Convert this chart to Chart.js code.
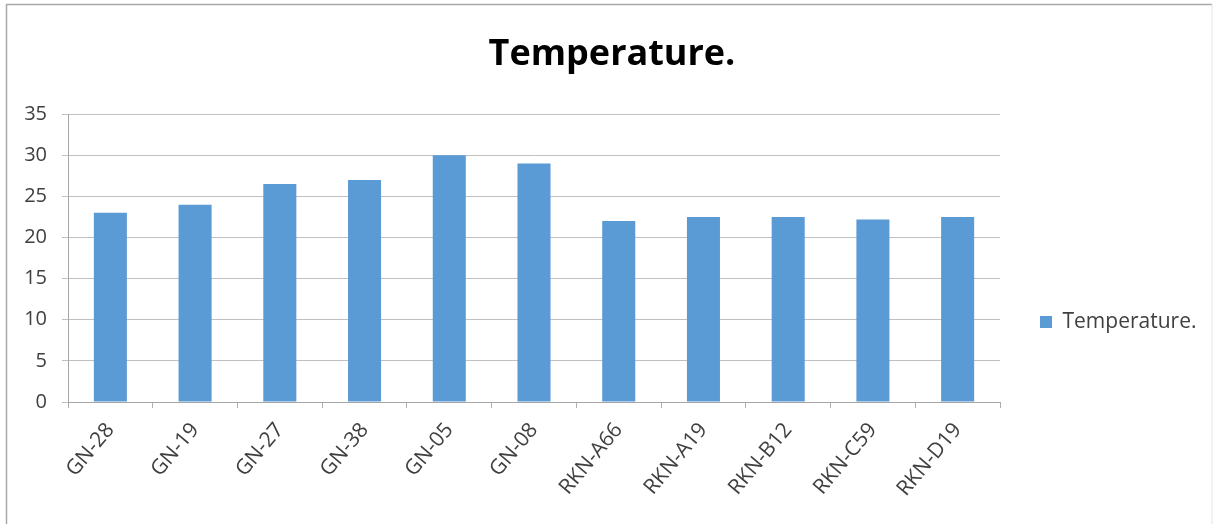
<!DOCTYPE html>
<html>
<head>
<meta charset="utf-8">
<script src="https://cdn.jsdelivr.net/npm/chart.js@4"></script>
<style>
  html, body { margin: 0; padding: 0; background: #fff; }
  #wrap { width: 1216px; height: 524px; position: relative; }
</style>
</head>
<body>
<div id="wrap"><canvas id="chart"></canvas></div>
<script>
const categories = ["GN-28", "GN-19", "GN-27", "GN-38", "GN-05", "GN-08",
	"RKN-A66", "RKN-A19", "RKN-B12", "RKN-C59", "RKN-D19"];
const temperature = [23, 24, 26.5, 27, 30, 29, 22, 22.5, 22.5, 22.2, 22.5];
const yTicks = [0, 5, 10, 15, 20, 25, 30, 35];

const FONT = "'Open Sans', 'Liberation Sans', sans-serif";

// white background + thin frame like the exported picture
const frame = {
	id: "frame",
	beforeDraw(chart) {
		const { ctx, width, height } = chart;
		ctx.save();
		ctx.fillStyle = "#fff";
		ctx.fillRect(0, 0, width, height);
		ctx.strokeStyle = "#a8a8a8";
		ctx.lineWidth = 1.5;
		ctx.beginPath();
		ctx.moveTo(6.5, height);
		ctx.lineTo(6.5, 4.5);
		ctx.lineTo(width - 4, 4.5);
		ctx.stroke();
		ctx.strokeStyle = "#ececec";
		ctx.beginPath();
		ctx.moveTo(width - 4, 4.5);
		ctx.lineTo(width - 4, height);
		ctx.stroke();
		ctx.restore();
	},
};

// fixed legend column on the right, centred lower like Excel does
const legendPlace = {
	id: "legendPlace",
	beforeInit(chart) {
		const fit = chart.legend.fit;
		chart.legend.fit = function () {
			fit.call(this);
			this.width = 216;
		};
	},
	afterLayout(chart) {
		chart.legend.top += 110;
	},
};

new Chart(document.getElementById("chart"), {
	type: "bar",
	plugins: [frame, legendPlace],
	data: {
		labels: categories,
		datasets: [
			{
				label: "Temperature.",
				data: temperature,
				backgroundColor: "#5b9bd5",
				borderWidth: 0,
				barPercentage: 0.39,
				categoryPercentage: 1,
			},
		],
	},
	options: {
		responsive: true,
		maintainAspectRatio: false,
		animation: false,
		layout: { padding: { left: 8, right: 0, top: 10, bottom: 0 } },
		plugins: {
			tooltip: { enabled: false },
			title: {
				display: true,
				text: "Temperature.",
				color: "#000",
				font: { family: FONT, size: 36, weight: "bold" },
				padding: { top: 23, bottom: 38 },
			},
			legend: {
				position: "right",
				labels: {
					boxWidth: 12,
					boxHeight: 12,
					padding: 40,
					color: "#404040",
					font: { family: FONT, size: 21 },
				},
			},
		},
		scales: {
			x: {
				grid: {
					display: true,
					drawOnChartArea: false,
					offset: true,
					tickLength: 6,
					color: "#b0b0b0",
				},
				border: { color: "#a6a6a6" },
				ticks: {
					color: "#404040",
					font: { family: FONT, size: 21 },
					minRotation: 50,
					maxRotation: 50,
					padding: 10,
				},
				afterFit(scale) {
					scale.height = 122;
				},
			},
			y: {
				min: 0,
				max: 35,
				afterBuildTicks(scale) {
					scale.ticks = yTicks.map(v => ({ value: v }));
				},
				grid: { color: "#c0c0c0", tickLength: 6 },
				border: { color: "#a6a6a6" },
				ticks: {
					color: "#404040",
					font: { family: FONT, size: 20 },
					padding: 15,
				},
				afterFit(scale) {
					scale.width = 60;
				},
			},
		},
	},
});
</script>
</body>
</html>
